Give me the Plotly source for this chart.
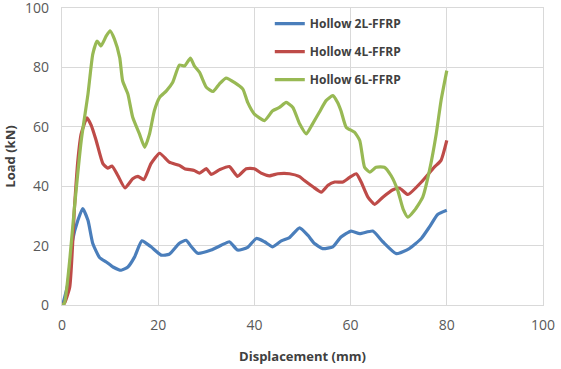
import plotly.graph_objects as go

# Hollow 2L-FFRP
x_2l = [0.0, 0.2, 1.2, 2.2, 3.3, 4.3, 5.4, 6.4, 7.8, 9.2, 10.6, 12.3, 13.7, 15.1, 16.6, 18.5, 20.6, 22.3,
        24.4, 25.8, 26.9, 28.2, 31.0, 33.1, 34.8, 36.5, 38.6, 40.4, 42.1, 43.8, 45.6, 47.3, 49.4, 51.1,
        52.5, 54.2, 56.3, 58.0, 60.1, 61.9, 64.6, 66.7, 69.5, 72.2, 74.7, 76.4, 78.1, 80.0]
y_2l = [0.0, 0.6, 7.0, 21.8, 28.5, 32.5, 28.5, 20.7, 16.0, 14.5, 12.8, 11.7, 12.8, 16.2, 21.6, 19.6, 16.8, 17.1,
        20.8, 21.8, 19.6, 17.4, 18.5, 20.1, 21.3, 18.5, 19.4, 22.4, 21.3, 19.6, 21.6, 22.7, 26.0, 23.5,
        20.7, 19.0, 19.6, 22.9, 24.9, 24.0, 24.9, 21.3, 17.3, 19.0, 22.4, 26.3, 30.5, 31.9]

# Hollow 4L-FFRP
x_4l = [0.0, 0.5, 1.6, 2.6, 3.3, 4.0, 5.2, 6.1, 7.1, 8.5, 9.5, 10.4, 11.6, 13.1, 14.7, 15.8, 17.0, 18.5,
        20.3, 22.3, 24.4, 25.5, 27.5, 28.6, 30.0, 31.0, 32.7, 34.8, 36.5, 38.3, 40.0, 41.4, 43.1, 44.9,
        47.3, 49.4, 50.4, 52.1, 53.9, 55.3, 56.7, 58.4, 59.8, 61.2, 62.2, 63.6, 65.0, 66.7, 68.8, 70.2,
        71.9, 75.0, 77.4, 78.8, 80.0]
y_4l = [0.0, 0.6, 6.0, 33.0, 48.7, 57.7, 63.0, 60.4, 55.4, 47.6, 46.1, 46.8, 43.6, 39.4, 42.5, 43.3, 42.2, 47.6,
        51.1, 48.1, 47.0, 45.9, 45.3, 44.4, 45.9, 44.0, 45.5, 46.6, 43.3, 45.9, 45.9, 44.4, 43.5, 44.2,
        44.2, 43.2, 41.9, 39.9, 38.0, 40.3, 41.4, 41.4, 43.0, 44.2, 41.4, 36.3, 33.9, 36.3, 38.8, 39.3,
        37.2, 41.9, 46.4, 48.7, 55.4]

# Hollow 6L-FFRP
x_6l = [0.0, 0.5, 1.6, 2.6, 4.0, 5.4, 6.4, 7.3, 8.1, 9.2, 10.0, 10.9, 12.0, 12.6, 13.7, 14.7, 16.1, 17.2,
        18.2, 19.2, 20.3, 21.7, 23.0, 24.4, 25.5, 26.7, 27.5, 28.6, 30.0, 31.4, 32.7, 34.1, 35.9, 37.6,
        38.6, 40.0, 42.1, 43.8, 45.2, 46.6, 48.0, 49.4, 50.8, 52.1, 53.5, 54.9, 56.3, 57.3, 58.0, 59.1,
        60.8, 61.9, 62.9, 64.0, 65.3, 67.0, 68.4, 69.8, 70.9, 71.9, 73.3, 75.0, 76.4, 77.8, 78.8, 80.0]
y_6l = [0.0, 0.6, 15.0, 33.0, 55.4, 71.0, 84.5, 88.9, 87.2, 90.6, 92.3, 89.5, 83.3, 75.5, 71.0, 63.2, 57.6, 53.1,
        57.6, 65.4, 69.9, 72.1, 74.9, 80.8, 80.5, 83.1, 80.5, 78.3, 73.3, 71.9, 74.4, 76.4, 74.9, 72.7,
        68.2, 64.3, 62.1, 65.4, 66.5, 68.2, 66.5, 61.0, 57.6, 61.0, 64.9, 68.8, 70.5, 68.2, 65.4, 59.8,
        58.2, 55.4, 46.4, 44.7, 46.4, 46.4, 43.6, 38.6, 32.4, 29.6, 31.9, 36.3, 45.3, 57.6, 68.8, 78.9]

names = ["Hollow 2L-FFRP", "Hollow 4L-FFRP", "Hollow 6L-FFRP"]
colors = ["#4A7EBB", "#BE4B48", "#98B954"]
series = [(x_2l, y_2l), (x_4l, y_4l), (x_6l, y_6l)]

x_ticks = [0, 20, 40, 60, 80, 100]
y_ticks = [0, 20, 40, 60, 80, 100]

fig = go.Figure()
for (xs, ys), name, color in zip(series, names, colors):
    fig.add_trace(go.Scatter(x=xs, y=ys, mode="lines", name=name, legendgroup=name,
                             line=dict(color=color, width=3.2, shape="spline", smoothing=0.5)))

grid = "#D9D9D9"
tickfont = dict(family="Open Sans, sans-serif", size=14, color="#595959")
titlefont = dict(family="Open Sans, sans-serif", size=13, color="#404040", weight="bold")

fig.update_layout(
    width=561, height=369,
    margin=dict(l=62, r=18, t=8, b=64),
    paper_bgcolor="white", plot_bgcolor="white",
    showlegend=True,
    legend=dict(x=0.432, y=0.996, xanchor="left", yanchor="top",
                font=dict(family="Open Sans, sans-serif", size=12, color="#404040", weight="bold"),
                bgcolor="rgba(255,255,255,0)", itemwidth=30, tracegroupgap=9,
                traceorder="grouped"),
    xaxis=dict(range=[0, 100], tickvals=x_ticks, showgrid=True, gridcolor=grid, gridwidth=1.3,
               zeroline=False, showline=True, linecolor=grid, linewidth=1.3, mirror=True,
               ticks="outside", ticklen=7, tickcolor="rgba(0,0,0,0)",
               tickfont=tickfont, automargin=False, ticklabeloverflow="allow",
               title=dict(text="Displacement (mm)", font=titlefont, standoff=18)),
    yaxis=dict(range=[0, 100], tickvals=y_ticks, showgrid=True, gridcolor=grid, gridwidth=1.3,
               zeroline=False, showline=True, linecolor=grid, linewidth=1.3, mirror=True,
               ticks="outside", ticklen=9, tickcolor="rgba(0,0,0,0)",
               tickfont=tickfont, automargin=False, ticklabeloverflow="allow",
               title=dict(text="Load (kN)", font=titlefont, standoff=6)),
)

fig.write_html("out.html", config={"displayModeBar": False},
               post_script="document.body.style.margin='0';")
